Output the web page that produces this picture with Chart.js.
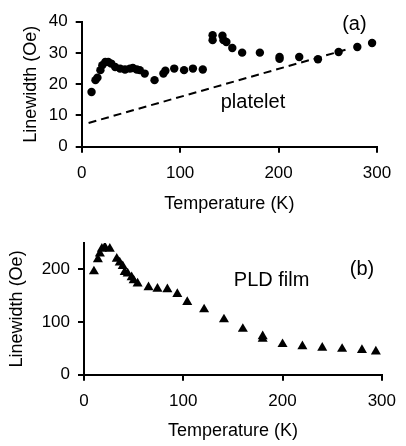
<!DOCTYPE html>
<html>
<head>
<meta charset="utf-8">
<script src="https://cdn.jsdelivr.net/npm/chart.js@4.4.1/dist/chart.umd.min.js"></script>
<style>
body { margin: 0; background: #fff; }
#wrap { position: relative; width: 406px; height: 446px; }
canvas { position: absolute; left: 0; }
</style>
</head>
<body>
<div id="wrap">
<canvas id="chartA" width="406" height="220" style="top:0px"></canvas>
<canvas id="chartB" width="406" height="226" style="top:220px"></canvas>
</div>
<script>
// (a) platelet - linewidth vs temperature
const tempA  = [10, 14, 16, 19, 21, 24, 27, 30, 34, 39, 44, 49, 52, 56, 59, 64, 74, 83, 85, 94, 104, 113, 123,
                133, 133, 143, 144, 147, 153, 163, 181, 201, 201, 221, 240, 261, 280, 295];
const widthA = [17.5, 21.3, 22.1, 24.5, 26.1, 27.1, 27.1, 26.6, 25.5, 25.0, 24.7, 25.0, 25.2, 24.7, 24.5, 23.4, 21.3, 23.4, 24.3, 25.0, 24.5, 25.0, 24.7,
                35.7, 34.1, 35.5, 34.1, 33.5, 31.6, 30.1, 30.1, 28.7, 28.1, 28.7, 28.0, 30.3, 31.9, 33.2];
// dashed "platelet" reference line
const lineT = [7, 268];
const lineW = [7.6, 31.0];

// (b) PLD film
const tempB  = [10, 14, 16, 18, 21, 26, 33, 36, 39, 41, 44, 48, 50, 54, 65, 74, 84, 94, 104, 121, 141, 160, 180, 180, 200, 220, 240, 260, 280, 294];
const widthB = [196, 219, 230, 239, 242, 239, 220, 213, 206, 195, 192, 185, 179, 173, 166, 163, 162, 153, 138, 124, 105, 87, 73, 68, 58, 54, 51, 49, 47, 44];

const ticksX = [0, 100, 200, 300];
const ticksA = [0, 10, 20, 30, 40];
const ticksB = [0, 100, 200];

const notesA = [{ text: 'platelet', x: 174, y: 14.2 }, { text: '(a)', x: 277, y: 39.2 }];
const notesB = [{ text: 'PLD film', x: 189, y: 178 }, { text: '(b)', x: 280, y: 199 }];

Chart.defaults.font.family = '"Liberation Sans", Arial, sans-serif';
Chart.defaults.color = '#000';

// text labels placed in data coordinates
const notePlugin = {
    id: 'notes',
    afterDraw(chart, args, opts) {
        const ctx = chart.ctx;
        ctx.save();
        ctx.font = '20px "Liberation Sans", Arial, sans-serif';
        ctx.fillStyle = '#000';
        ctx.textAlign = 'center';
        ctx.textBaseline = 'middle';
        opts.items.forEach(n => {
            ctx.fillText(n.text, chart.scales.x.getPixelForValue(n.x), chart.scales.y.getPixelForValue(n.y));
        });
        ctx.restore();
    }
};

function toPoints(xs, ys) {
    return xs.map((x, i) => ({ x: x, y: ys[i] }));
}

function axis(min, max, ticks, title, fit, titlePad, tickPad) {
    return {
        type: 'linear',
        min: min,
        max: max,
        afterBuildTicks: s => { s.ticks = ticks.map(v => ({ value: v })); },
        afterFit: fit,
        border: { display: true, color: '#000', width: 2 },
        grid: { drawOnChartArea: false, drawTicks: true, tickLength: 6, color: '#000', lineWidth: 2 },
        ticks: { font: { size: 17 }, color: '#000', padding: tickPad, maxRotation: 0 },
        title: { display: true, text: title, font: { size: 18 }, color: '#000', padding: titlePad }
    };
}

new Chart(document.getElementById('chartA'), {
    type: 'scatter',
    data: {
        datasets: [
            {
                data: toPoints(tempA, widthA),
                pointStyle: 'circle',
                pointRadius: 4.2,
                borderWidth: 0,
                backgroundColor: '#000'
            },
            {
                type: 'line',
                data: toPoints(lineT, lineW),
                borderColor: '#000',
                borderWidth: 2,
                borderDash: [8, 5],
                pointRadius: 0,
                fill: false
            }
        ]
    },
    options: {
        responsive: false,
        animation: false,
        layout: { padding: { top: 21.7, right: 29, left: 0, bottom: 0 } },
        plugins: { legend: { display: false }, tooltip: { enabled: false }, notes: { items: notesA } },
        scales: {
            x: axis(0, 300, ticksX, 'Temperature (K)', s => { s.height = 73.3; }, { top: 0, bottom: 5 }, 10),
            y: axis(0, 40, ticksA, 'Linewidth (Oe)', s => { s.width = 81.7; }, { top: 20, bottom: 0 }, 8)
        }
    },
    plugins: [notePlugin]
});

new Chart(document.getElementById('chartB'), {
    type: 'scatter',
    data: {
        datasets: [
            {
                data: toPoints(tempB, widthB),
                pointStyle: 'triangle',
                pointRadius: 5.8,
                borderWidth: 0,
                backgroundColor: '#000'
            }
        ]
    },
    options: {
        responsive: false,
        animation: false,
        layout: { padding: { top: 23, right: 19.3, left: 0, bottom: 0 } },
        plugins: { legend: { display: false }, tooltip: { enabled: false }, notes: { items: notesB } },
        scales: {
            x: axis(0, 300, ticksX, 'Temperature (K)', s => { s.height = 71.2; }, { top: 0, bottom: 4 }, 10),
            y: axis(0, 250, ticksB, 'Linewidth (Oe)', s => { s.width = 84; }, { top: 6, bottom: 0 }, 8)
        }
    },
    plugins: [notePlugin]
});
</script>
</body>
</html>
